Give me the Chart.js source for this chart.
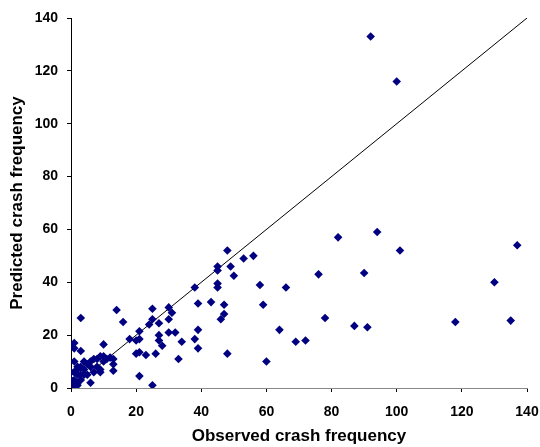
<!DOCTYPE html>
<html>
<head>
<meta charset="utf-8">
<script src="https://cdn.jsdelivr.net/npm/chart.js@4"></script>
<style>
html,body{margin:0;padding:0;background:#fff;}
#wrap{width:540px;height:447px;position:relative;}
</style>
</head>
<body>
<div id="wrap"><canvas id="c" width="540" height="447"></canvas></div>
<script>
const observed = [92,100,94,82,137,101,56,53,48,49,50,45,45,45,45,38,58,66,76,90,130,
  39,43,47,59,47,46,78,87,91,118,135,64,69,72,60,48,
  14,16,3,25,30,31,30,25,27,24,39,30,32,27,27,28,34,38,39,33,26,23,20,21,21,20,21,18,21,25,
  13,13,13,11,10,9,10,9,9,8,7,6,5,6,4,7,5,6,3,1,0,1,1,2,1,0,2,3,0,1,2,0,0,1,2,0,3,4,2,3,8,4,12,10];
const predicted = [133,116,59,57,54,52,50,49,52,46,42.5,46,44.5,39.5,38,38,39,38,43,43.5,40,
  32,32.5,31.5,31.5,28,26,26.5,23.5,23,25,25.5,22,17.5,18,10,13,
  29.5,25,26.5,30,30.5,28.5,26,26,24.5,24,22,21,21,20,18,16,17.5,18.5,15,11,13,12.5,13,13.5,21.5,18,18.5,18.5,4.5,1,
  11,9,6.5,11,16.5,12,10,7,6,11,11,10,9,8,7,6,5,2,14,17,16,15,10,8,6,6,5,5,3,3,2,2,1,1,1,0.5,3,5,7,8,8,10,11.5,12];
const lineX = [0,140];
const lineY = [0,140];
const xTitle = "Observed crash frequency";
const yTitle = "Predicted crash frequency";

const pts = observed.map((x,i)=>({x:x,y:predicted[i]}));
const linePts = lineX.map((x,i)=>({x:x,y:lineY[i]}));
const fontFam = "'Liberation Sans', Arial, sans-serif";

new Chart(document.getElementById('c'), {
  type: 'scatter',
  data: {
    datasets: [
      {data: pts, pointStyle:'rectRot', pointRadius:4.3, pointHoverRadius:4.3,
       backgroundColor:'#000080', borderColor:'#000080', borderWidth:0, showLine:false, order:1},
      {type:'line', data: linePts, borderColor:'#000000', borderWidth:1, pointRadius:0, fill:false, order:2}
    ]
  },
  options: {
    responsive:false, animation:false,
    plugins:{legend:{display:false}, tooltip:{enabled:false}},
    layout:{padding:{left:0,right:13,top:18,bottom:0}},
    scales:{
      x:{type:'linear', min:0, max:140,
        ticks:{stepSize:20, color:'#000', font:{family:fontFam, size:14, weight:'bold'}, padding:12},
        grid:{display:true, drawOnChartArea:false, drawTicks:true, tickLength:4, color:'#000'},
        border:{display:true, color:'#888', width:1},
        title:{display:true, text:xTitle, color:'#000', font:{family:fontFam, size:17, weight:'bold'}, padding:{top:4,bottom:0}},
        afterFit:(s)=>{s.height=59; s.paddingRight=13; s.paddingLeft=8;}
      },
      y:{type:'linear', min:0, max:140,
        ticks:{stepSize:20, color:'#000', font:{family:fontFam, size:14, weight:'bold'}, padding:9},
        grid:{display:true, drawOnChartArea:false, drawTicks:true, tickLength:4, color:'#000'},
        border:{display:true, color:'#000', width:1},
        title:{display:true, text:yTitle, color:'#000', font:{family:fontFam, size:17, weight:'bold'}, padding:{top:7,bottom:0}},
        afterFit:(s)=>{s.width=71;}
      }
    }
  }
});
</script>
</body>
</html>
